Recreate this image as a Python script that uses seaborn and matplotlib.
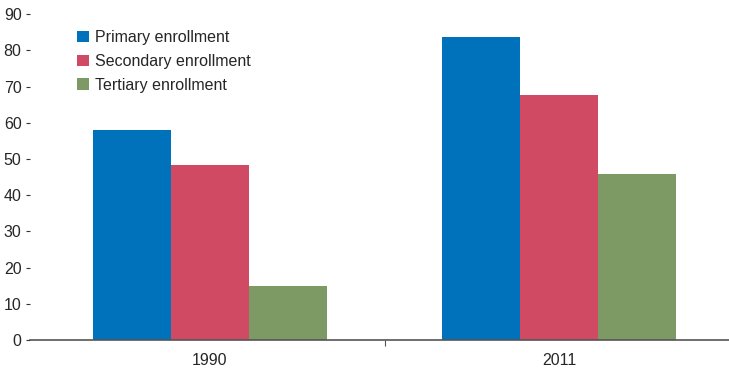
import pandas as pd
import matplotlib
matplotlib.use("Agg")
import matplotlib.pyplot as plt
import seaborn as sns
from matplotlib.ticker import FixedLocator

# --- Data ---
years = ["1990", "2011"]
levels = ["Primary enrollment", "Secondary enrollment", "Tertiary enrollment"]
primary = [58.0, 83.7]
secondary = [48.3, 67.7]
tertiary = [14.9, 45.9]
colors = ["#0072BC", "#CF4A62", "#7E9A64"]

df = pd.DataFrame({
    "year": years * 3,
    "level": [levels[0]] * 2 + [levels[1]] * 2 + [levels[2]] * 2,
    "value": primary + secondary + tertiary,
})

sns.set_style("white")
plt.rcParams["font.family"] = ["Liberation Sans Narrow", "Liberation Sans", "DejaVu Sans"]

fig = plt.figure(figsize=(7.29, 3.72), dpi=100)
ax = fig.add_axes([0.041, 0.086, 0.959, 0.876])

sns.barplot(data=df, x="year", y="value", hue="level", palette=colors,
            width=0.67, saturation=1, ax=ax, errorbar=None, linewidth=0)

ax.set_xlim(-0.516, 1.487)
ax.set_ylim(0, 90)
ax.set_yticks(range(0, 91, 10))
ax.set_xlabel("")
ax.set_ylabel("")

for s in ["top", "right", "left"]:
    ax.spines[s].set_visible(False)
ax.spines["bottom"].set_color("#555555")
ax.spines["bottom"].set_linewidth(1.2)

ax.tick_params(axis="y", left=True, length=3, width=0.8, color="#333333",
               labelsize=11.5, pad=3)
ax.tick_params(axis="x", bottom=False, labelsize=11.5, pad=6)
ax.xaxis.set_minor_locator(FixedLocator([0.5]))
ax.tick_params(axis="x", which="minor", bottom=True, length=4, width=0.8, color="#555555")

leg = ax.legend(loc="upper left", bbox_to_anchor=(0.047, 0.995), frameon=False,
                fontsize=11.5, handlelength=0.75, handleheight=0.75,
                handletextpad=0.4, labelspacing=0.55)

fig.savefig("out.png", dpi=100)
